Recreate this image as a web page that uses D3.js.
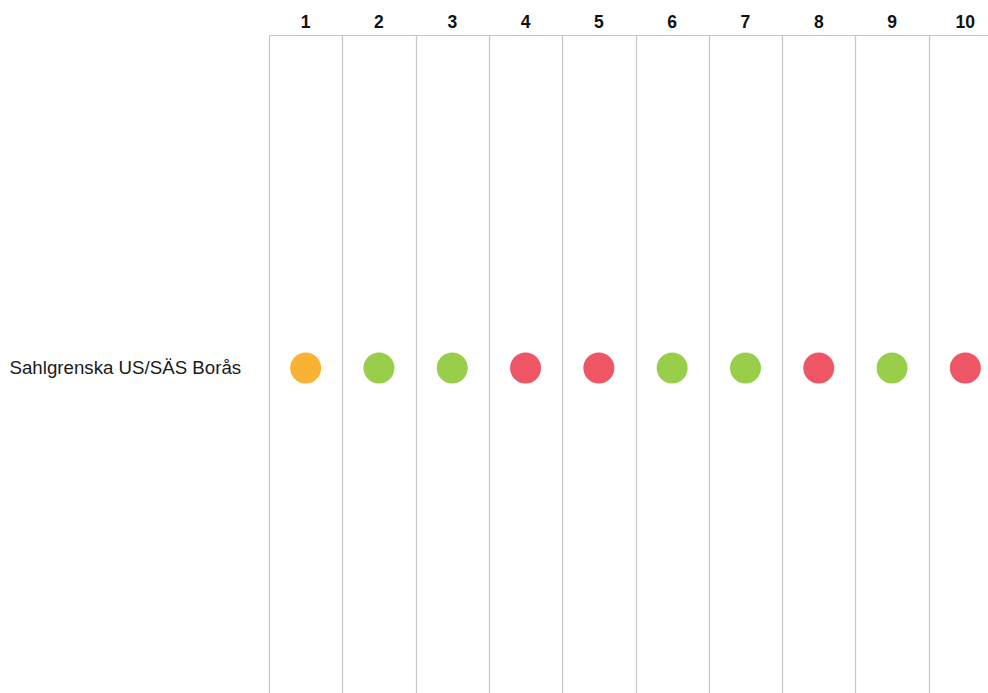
<!DOCTYPE html>
<html><head><meta charset="utf-8">
<script src="https://cdn.jsdelivr.net/npm/d3@7"></script>
<style>body{margin:0;background:#fff;}svg{display:block;}</style>
</head><body>
<svg id="c" width="988" height="693"></svg>
<script>
const columns = ["1","2","3","4","5","6","7","8","9","10"];
const rows = ["Sahlgrenska US/SÄS Borås"];
const statuses = ["orange","green","green","red","red","green","green","red","green","red"];
const colorMap = {orange:"#F9B234", green:"#98CE49", red:"#EE5565"};

const svg = d3.select("#c");
const x = d3.scaleBand().domain(columns).range([269, 1002]);
const y = d3.scaleBand().domain(rows).range([35, 701]);

const font = "'Liberation Sans', Arial, sans-serif";

svg.append("line").attr("x1", 269).attr("x2", 988).attr("y1", 35.5).attr("y2", 35.5)
  .attr("stroke", "#c8c8c8").attr("stroke-width", 1);
svg.selectAll("line.v").data(columns).enter().append("line").attr("class","v")
  .attr("x1", d => Math.round(x(d)) + 0.5).attr("x2", d => Math.round(x(d)) + 0.5)
  .attr("y1", 35).attr("y2", 701)
  .attr("stroke", "#c8c8c8").attr("stroke-width", 1.3);

svg.selectAll("text.h").data(columns).enter().append("text").attr("class","h")
  .attr("x", d => x(d) + x.bandwidth()/2).attr("y", 28)
  .attr("text-anchor","middle").attr("font-family", font).attr("font-size", 17.5)
  .attr("font-weight","bold").attr("fill","#111").text(d => d);

svg.selectAll("text.r").data(rows).enter().append("text").attr("class","r")
  .attr("x", 9.5).attr("y", d => y(d) + y.bandwidth()/2 + 6)
  .attr("font-family", font).attr("font-size", 18.7).attr("fill","#1a1a1a").text(d => d);

svg.selectAll("circle").data(columns.map((c,i) => ({c, s: statuses[i], r: rows[0]})))
  .enter().append("circle")
  .attr("cx", d => x(d.c) + x.bandwidth()/2)
  .attr("cy", d => y(d.r) + y.bandwidth()/2)
  .attr("r", 15.5)
  .attr("fill", d => colorMap[d.s]);
</script>
</body></html>
